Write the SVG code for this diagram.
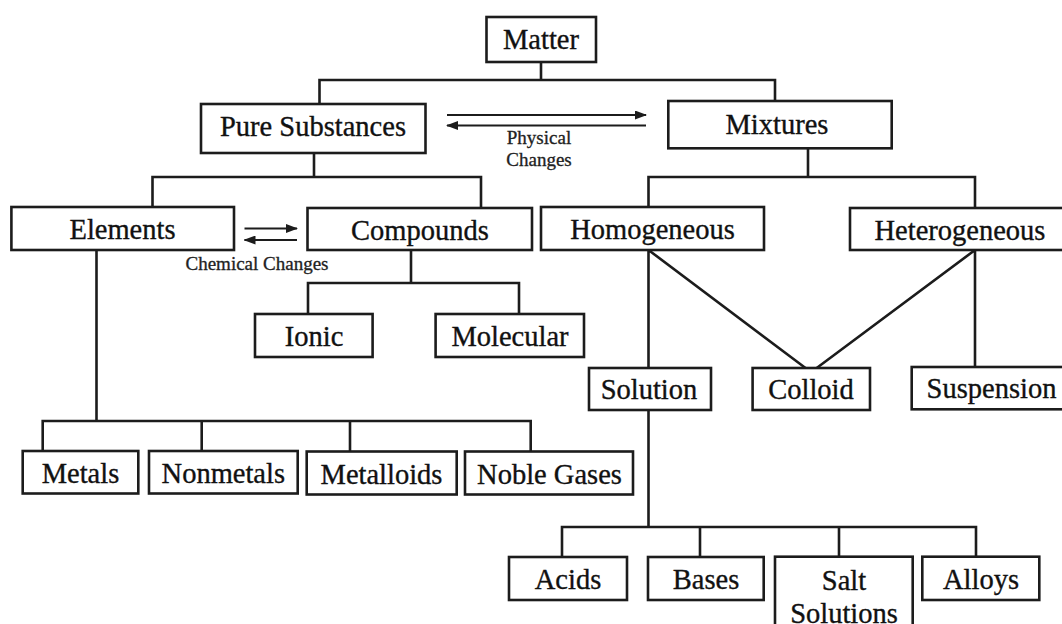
<svg xmlns="http://www.w3.org/2000/svg" width="1062" height="624" viewBox="0 0 1062 624">
<style>
.box{fill:#fff;stroke:#1c1c1c;stroke-width:2.6}
.lbl{font-family:"Liberation Serif","Times New Roman",serif;font-size:28.5px;fill:#111;stroke:#111;stroke-width:0.35;text-anchor:middle}
.sm{font-family:"Liberation Serif","Times New Roman",serif;font-size:19px;fill:#222;stroke:#222;stroke-width:0.3;text-anchor:middle}
.ln{fill:none;stroke:#1c1c1c;stroke-width:2.6}
.ar{fill:none;stroke:#1c1c1c;stroke-width:2.2}
</style>
<defs>
<marker id="ah" viewBox="0 0 12 9" refX="11" refY="4.5" markerWidth="12" markerHeight="9" markerUnits="userSpaceOnUse" orient="auto">
<path d="M0,0 L12,4.5 L0,9 Z" fill="#1c1c1c"/>
</marker>
</defs>
<rect width="1062" height="624" fill="#fff"/>
<g id="connectors">
<path class="ln" d="M541,62 V80 M319.5,104 V80 H775 V101"/>
<path class="ln" d="M314,153 V177 M152.5,207 V177 H481 V208"/>
<path class="ln" d="M808,148 V177 M648.5,207 V177 H975 V208"/>
<path class="ln" d="M411,250 V283 M308,314 V283 H519 V314"/>
<path class="ln" d="M96.5,250 V421 M42.7,451 V421 H530.7 V451 M201.7,421 V451 M350,421 V451"/>
<path class="ln" d="M648.5,250 V368 M648.5,250 L805.5,368"/>
<path class="ln" d="M975,250 V368 M975,250 L816.7,368"/>
<path class="ln" d="M648.5,410 V527 M562,557 V527 H976 V557 M700,527 V557 M839,527 V557"/>
<path class="ar" d="M447,115 H646" marker-end="url(#ah)"/>
<path class="ar" d="M646,125.5 H447" marker-end="url(#ah)"/>
<path class="ar" d="M244.5,228.5 H297" marker-end="url(#ah)"/>
<path class="ar" d="M297,240 H244.5" marker-end="url(#ah)"/>
<text class="sm" x="539" y="144">Physical</text>
<text class="sm" x="539" y="166">Changes</text>
<text class="sm" x="257" y="270">Chemical Changes</text>
</g>
<g id="matter"><rect class="box" x="486.5" y="17" width="109.5" height="45"/><text class="lbl" x="541" y="49">Matter</text></g>
<g id="pure"><rect class="box" x="201" y="104" width="224.5" height="49"/><text class="lbl" x="313" y="136">Pure Substances</text></g>
<g id="mixtures"><rect class="box" x="668.3" y="101" width="223.4" height="47.3"/><text class="lbl" x="777" y="134">Mixtures</text></g>
<g id="elements"><rect class="box" x="11.4" y="207" width="222.6" height="43"/><text class="lbl" x="122.5" y="239">Elements</text></g>
<g id="compounds"><rect class="box" x="307.5" y="208" width="224.5" height="42"/><text class="lbl" x="420" y="240">Compounds</text></g>
<g id="ionic"><rect class="box" x="255" y="314" width="117.6" height="43"/><text class="lbl" x="314" y="346">Ionic</text></g>
<g id="molecular"><rect class="box" x="435.6" y="314" width="148.4" height="43"/><text class="lbl" x="510" y="346">Molecular</text></g>
<g id="homogeneous"><rect class="box" x="541" y="207" width="223" height="43"/><text class="lbl" x="652.5" y="239">Homogeneous</text></g>
<g id="heterogeneous"><rect class="box" x="850" y="208" width="223" height="42"/><text class="lbl" x="960" y="240">Heterogeneous</text></g>
<g id="solution"><rect class="box" x="589" y="368" width="122" height="42"/><text class="lbl" x="649" y="399">Solution</text></g>
<g id="colloid"><rect class="box" x="752.6" y="368" width="117.4" height="42"/><text class="lbl" x="811" y="399">Colloid</text></g>
<g id="suspension"><rect class="box" x="911.7" y="367" width="162" height="42.3"/><text class="lbl" x="991.5" y="398">Suspension</text></g>
<g id="metals"><rect class="box" x="22.7" y="451" width="115.6" height="42.5"/><text class="lbl" x="80.5" y="483">Metals</text></g>
<g id="nonmetals"><rect class="box" x="149" y="451" width="148.7" height="42.5"/><text class="lbl" x="223.3" y="483">Nonmetals</text></g>
<g id="metalloids"><rect class="box" x="306.7" y="451.5" width="150" height="43"/><text class="lbl" x="381.5" y="484">Metalloids</text></g>
<g id="noble"><rect class="box" x="465" y="451.5" width="168" height="43"/><text class="lbl" x="549.5" y="484">Noble Gases</text></g>
<g id="acids"><rect class="box" x="509" y="557" width="118" height="43"/><text class="lbl" x="568" y="589">Acids</text></g>
<g id="bases"><rect class="box" x="648" y="557" width="115.7" height="43"/><text class="lbl" x="706" y="589">Bases</text></g>
<g id="salt"><rect class="box" x="775" y="556.7" width="137.7" height="80"/><text class="lbl" x="844" y="590">Salt</text><text class="lbl" x="844" y="623">Solutions</text></g>
<g id="alloys"><rect class="box" x="922.3" y="556.7" width="117" height="43.3"/><text class="lbl" x="981" y="589">Alloys</text></g>
</svg>
